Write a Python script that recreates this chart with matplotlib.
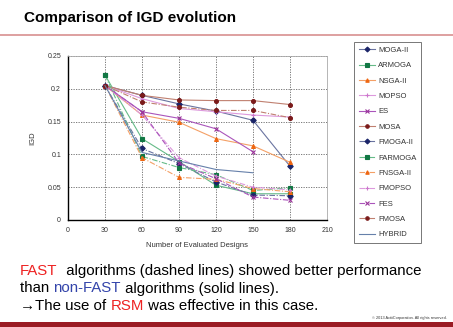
import matplotlib
matplotlib.use("Agg")
import matplotlib.pyplot as plt
from matplotlib.lines import Line2D

# evaluated designs
x_full = [30, 60, 90, 120, 150, 180]
x_short = [30, 60, 90, 120, 150]

# IGD values, non-FAST (solid)
moga2 = [0.205, 0.190, 0.177, 0.166, 0.152, 0.082]
armoga = [0.221, 0.124, 0.089, 0.053, 0.040, 0.040]
nsga2 = [0.205, 0.160, 0.149, 0.124, 0.113, 0.088]
mopso = [0.205, 0.185, 0.170, 0.165, 0.160, 0.157]
es = [0.205, 0.165, 0.155, 0.139, 0.104]
mosa = [0.205, 0.190, 0.183, 0.182, 0.182, 0.176]
# FAST (dashed)
fmoga2 = [0.205, 0.109, 0.086, 0.058, 0.038, 0.037]
farmoga = [0.221, 0.097, 0.080, 0.069, 0.045, 0.049]
fnsga2 = [0.205, 0.095, 0.065, 0.062, 0.048, 0.043]
fmopso = [0.205, 0.160, 0.095, 0.067, 0.050, 0.046]
fes = [0.205, 0.165, 0.087, 0.063, 0.035, 0.030]
fmosa = [0.205, 0.180, 0.172, 0.167, 0.167, 0.156]
hybrid = [0.205, 0.103, 0.090, 0.077, 0.072]

W, H = 453, 327
fig = plt.figure(figsize=(W / 100, H / 100), dpi=100)
plt.rcParams['font.family'] = ['Liberation Sans', 'DejaVu Sans']

ax = fig.add_axes([68 / W, 1 - 220 / H, 259 / W, 164 / H])

dash = (0, (5, 1.5, 1, 1.5))
series = [
    ("MOGA-II", x_full, moga2, "#6a74a0", "#1a2468", "D", "-"),
    ("ARMOGA", x_full, armoga, "#66bb88", "#117744", "s", "-"),
    ("NSGA-II", x_full, nsga2, "#f4a066", "#ee6611", "^", "-"),
    ("MOPSO", x_full, mopso, "#dd99dd", "#cc77cc", "+", "-"),
    ("ES", x_short, es, "#aa55bb", "#993399", "x", "-"),
    ("MOSA", x_full, mosa, "#c08070", "#7a1a1a", "o", "-"),
    ("FMOGA-II", x_full, fmoga2, "#6a74a0", "#1a2468", "D", dash),
    ("FARMOGA", x_full, farmoga, "#66bb88", "#117744", "s", dash),
    ("FNSGA-II", x_full, fnsga2, "#f4a066", "#ee6611", "^", dash),
    ("FMOPSO", x_full, fmopso, "#dd99dd", "#cc77cc", "+", dash),
    ("FES", x_full, fes, "#aa55bb", "#993399", "x", dash),
    ("FMOSA", x_full, fmosa, "#c08070", "#7a1a1a", "o", dash),
    ("HYBRID", x_short, hybrid, "#6680aa", "#6680aa", None, "-"),
]
handles = []
for name, xs, ys, lc, mc, mk, ls in series:
    ax.plot(xs, ys, color=lc, lw=0.8, ls=ls, marker=mk, ms=2.8,
            mfc=mc, mec=mc, mew=0.8)
    handles.append(Line2D([], [], color=lc, lw=0.8, ls=ls, marker=mk, ms=2.5,
                          mfc=mc, mec=mc, mew=0.8, label=name))

ax.set_xlim(0, 210)
ax.set_ylim(0, 0.25)
ax.set_xticks(range(0, 211, 30))
ax.set_yticks([0, 0.05, 0.1, 0.15, 0.2, 0.25])
ax.set_yticklabels(["0", "0.05", "0.1", "0.15", "0.2", "0.25"])
ax.tick_params(labelsize=5, length=0, pad=5, colors="#333333")
ax.grid(True, ls=(0, (1.5, 1.5)), color="#666666", lw=0.6)
for s in ["top", "right"]:
    ax.spines[s].set_color("#aaaaaa")
    ax.spines[s].set_linewidth(0.6)
for s in ["left", "bottom"]:
    ax.spines[s].set_color("#000000")
    ax.spines[s].set_linewidth(1.0)
ax.set_xlabel("Number of Evaluated Designs", fontsize=5.5, labelpad=6, color="#333333")
ax.set_ylabel("IGD", fontsize=5.5, labelpad=8, color="#333333")

leg = fig.legend(handles=handles, loc="upper left",
                 bbox_to_anchor=(354 / W, 1 - 42 / H), fontsize=5.5,
                 handlelength=2.2, labelspacing=1.05, frameon=True,
                 fancybox=False, edgecolor="#555555", borderpad=0.6,
                 handletextpad=0.4, borderaxespad=0)
leg.get_frame().set_linewidth(0.7)
for t in leg.get_texts():
    t.set_color("#333333")

# title and decoration
fig.text(24 / W, 1 - 18 / H, "Comparison of IGD evolution", fontsize=11,
         fontweight="bold", va="center", ha="left")
fig.add_artist(Line2D([0, 1], [1 - 35 / H, 1 - 35 / H], color="#d89090", lw=1.2))
fig.add_artist(plt.Rectangle((0, 0), 1, 5 / H, color="#9b1c24", lw=0))
fig.text(447 / W, 1 - 318 / H, "\u00a9 2013 ActiiCorporation. All rights reserved.",
         fontsize=2.8, ha="right", va="center", color="#333333")


def colored_line(y, parts, size=10.8):
    fig.canvas.draw()
    r = fig.canvas.get_renderer()
    xp = 20
    for txt, col in parts:
        t = fig.text(xp / W, 1 - y / H, txt, fontsize=size, color=col,
                     va="baseline", ha="left")
        bb = t.get_window_extent(renderer=r)
        xp += bb.width


colored_line(275, [("FAST", "#ee2222"),
                   ("  algorithms (dashed lines) showed better performance", "#000000")])
colored_line(292.5, [("than ", "#000000"), ("non-FAST", "#3344aa"),
                     (" algorithms (solid lines).", "#000000")])
colored_line(310, [("\u2192The use of ", "#000000"), ("RSM", "#ee2222"),
                   (" was effective in this case.", "#000000")])

fig.savefig("out.png", dpi=100)
